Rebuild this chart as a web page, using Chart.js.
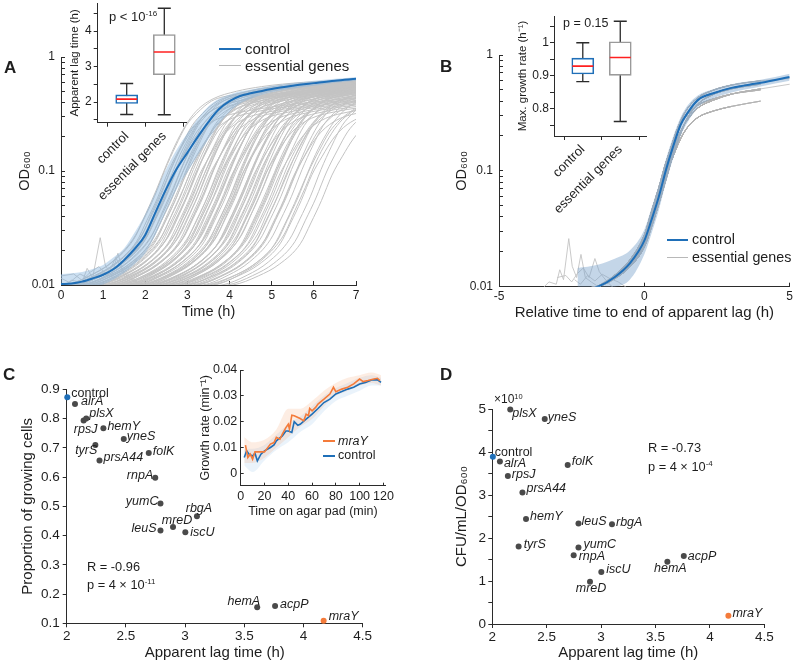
<!DOCTYPE html>
<html><head><meta charset="utf-8">
<script src="https://cdn.jsdelivr.net/npm/chart.js@4/dist/chart.umd.min.js"></script>
<style>
body{margin:0;width:800px;height:664px;background:#fff;position:relative;overflow:hidden;font-family:'Liberation Sans',Arial,Helvetica,sans-serif;color:#1e1e1e}
canvas{position:absolute;z-index:1}
.t{position:absolute;white-space:nowrap;transform:translateY(-50%);line-height:1;z-index:2}
.sup{font-size:0.62em;vertical-align:0.6em}
.lg{position:absolute;height:0;z-index:2}
</style></head><body>
<div class="t" style="left:4px;top:67px;font-weight:bold;font-size:17px">A</div>
<div class="t" style="left:440px;top:66px;font-weight:bold;font-size:17px">B</div>
<div class="t" style="left:3px;top:374px;font-weight:bold;font-size:17px">C</div>
<div class="t" style="left:440px;top:374px;font-weight:bold;font-size:17px">D</div>

<div class="lg" style="left:219px;top:47.5px;width:22px;border-top:2px solid #1f6fb8"></div>
<div class="t" style="left:245px;top:48px;font-size:15px">control</div>
<div class="lg" style="left:219px;top:64.5px;width:22px;border-top:1px solid #b8b8b8"></div>
<div class="t" style="left:245px;top:65px;font-size:15px">essential genes</div>

<div class="lg" style="left:667px;top:238.5px;width:21px;border-top:2px solid #1f6fb8"></div>
<div class="t" style="left:692px;top:239px;font-size:14.3px">control</div>
<div class="lg" style="left:667px;top:256.5px;width:21px;border-top:1px solid #b8b8b8"></div>
<div class="t" style="left:692px;top:257px;font-size:14.3px">essential genes</div>

<div class="lg" style="left:322.5px;top:440px;width:12.5px;border-top:2px solid #f47b3a"></div>
<div class="t" style="left:338px;top:441px;font-size:12.5px;font-style:italic">mraY</div>
<div class="lg" style="left:322.5px;top:454.5px;width:12.5px;border-top:2px solid #1f6fb8"></div>
<div class="t" style="left:338px;top:455px;font-size:12.5px">control</div>

<div class="t" style="left:109px;top:16px;font-size:13px">p &lt; 10<span class="sup">-16</span></div>
<div class="t" style="left:563px;top:23px;font-size:12.5px">p = 0.15</div>
<div class="t" style="left:87px;top:567px;font-size:12.8px">R = -0.96</div>
<div class="t" style="left:87px;top:585px;font-size:12.8px">p = 4 &#215; 10<span class="sup">-11</span></div>
<div class="t" style="left:648px;top:448px;font-size:12.8px">R = -0.73</div>
<div class="t" style="left:648px;top:467px;font-size:12.8px">p = 4 &#215; 10<span class="sup">-4</span></div>
<div class="t" style="left:494px;top:399px;font-size:12px">&#215;10<span class="sup">10</span></div>

<script>
// ---------------- DATA ----------------
// Panel A: control mean growth curve (h, OD600) and its band
const timeA    = [0,0.25,0.5,0.75,1,1.25,1.5,1.75,2,2.25,2.5,2.75,3,3.25,3.5,3.75,4,4.25,4.5,5,5.5,6,6.5,7];
const ctrlOD_A = [0.0102,0.0103,0.0107,0.0114,0.0123,0.0138,0.0166,0.0208,0.0275,0.044,0.07,0.105,0.145,0.2,0.27,0.35,0.41,0.455,0.48,0.525,0.56,0.59,0.62,0.643];
const ctrlHi_A = [0.0125,0.0127,0.013,0.0138,0.015,0.0175,0.021,0.029,0.042,0.066,0.105,0.155,0.215,0.29,0.37,0.43,0.47,0.5,0.52,0.56,0.59,0.62,0.645,0.665];
const ctrlLo_A = [0.0089,0.009,0.0092,0.0095,0.0101,0.0112,0.0128,0.0153,0.019,0.028,0.045,0.07,0.098,0.138,0.19,0.26,0.33,0.39,0.43,0.49,0.53,0.56,0.595,0.62];

// Essential-gene growth curve shapes vs time relative to end of lag (h)
const relT   = [-6,-2.2,-1.6,-1,-0.5,0,0.25,0.5,0.75,1,1.25,1.5,1.85,2.4,3,4,5.2];
const shape0 = [0.0096,0.0097,0.0100,0.0122,0.0159,0.025,0.038,0.060,0.103,0.165,0.25,0.32,0.41,0.47,0.52,0.575,0.65];
const shape1 = [0.0096,0.0097,0.0100,0.0121,0.0155,0.024,0.037,0.058,0.098,0.150,0.22,0.28,0.35,0.41,0.46,0.51,0.57];
const shape2 = [0.0096,0.0097,0.0100,0.0120,0.0152,0.023,0.035,0.055,0.092,0.135,0.19,0.24,0.29,0.33,0.36,0.40,0.44];
const shape3 = [0.0096,0.0097,0.0101,0.0125,0.0165,0.027,0.042,0.068,0.115,0.185,0.27,0.35,0.43,0.50,0.55,0.60,0.63];
const shape4 = [0.0096,0.0097,0.0100,0.0118,0.0148,0.022,0.033,0.052,0.085,0.14,0.21,0.29,0.38,0.46,0.51,0.56,0.61];
const shape5 = [0.0096,0.0097,0.0101,0.0127,0.017,0.028,0.045,0.072,0.12,0.18,0.25,0.31,0.37,0.42,0.46,0.5,0.54];
// apparent lag (h) of each essential-gene curve and its shape
const lagsA = [1.72,1.76,1.79,1.83,1.86,1.9,1.93,1.97,2.0,2.03,2.07,2.1,2.14,2.17,2.21,2.25,2.28,2.32,2.35,2.39,
  2.42,2.46,2.49,2.53,2.56,2.6,2.63,2.67,2.7,2.74,2.77,2.81,2.84,2.88,2.91,2.95,2.98,3.02,3.05,3.09,
  3.12,3.16,3.19,3.23,3.26,3.3,3.33,3.37,3.4,3.44,3.47,3.51,3.54,3.58,3.61,3.65,3.68,3.72,3.75,3.79,
  3.82,3.86,3.9,3.93,3.97,4.01,4.05,4.09,4.13,4.17,4.21,4.25,4.3,4.34,4.38,4.43,4.47,4.52,4.57,4.62,
  4.67,4.72,4.78,4.84,4.9,4.97,5.04,5.12,5.2,5.3,5.42,5.55,5.68];
const shapeA = [0,3,1,4,0,2,5,1,0,3, 4,0,1,5,2,0,3,1,4,0, 5,1,0,2,3,4,0,1,5,0, 2,3,1,0,4,5,0,2,1,3,
  0,4,1,5,0,2,3,0,1,4, 5,0,2,1,3,0,4,5,1,0, 2,3,0,4,1,5,0,2,1,3, 0,4,5,1,0,2,3,0,4,1, 5,0,2,1,3,0,4,1,2,5, 0,1,2];
// noisy early-phase curves (h, OD600) and their lags
const noisy1T = [0,0.25,0.5,0.62,0.75,0.93,1.05,1.2,1.35,1.5,1.7,2.0,2.3];
const noisy1OD = [0.0095,0.011,0.0105,0.014,0.0115,0.026,0.015,0.012,0.019,0.012,0.011,0.0098,0.009];
const noisy2T = [0,0.3,0.5,0.7,0.9,1.1,1.3,1.45,1.6,1.8,2.0];
const noisy2OD = [0.012,0.0125,0.011,0.013,0.0145,0.012,0.0175,0.0135,0.012,0.0105,0.0095];
const noisy3T = [0,0.2,0.45,0.7,0.95,1.2,1.5,1.8];
const noisy3OD = [0.0115,0.0105,0.0125,0.0112,0.0128,0.0118,0.0110,0.0098];
const noisyLags = [3.53,3.0,2.4];

// Panel B: control aligned curve and band
const relB  = [-2.3,-1.6,-1,-0.5,0,0.25,0.5,0.75,1,1.25,1.5,1.85,2.4,3,4,5];
const ctrlB = [0.0090,0.0100,0.0122,0.0159,0.025,0.038,0.060,0.103,0.165,0.25,0.32,0.41,0.47,0.52,0.575,0.645];
const hiB   = [0.0145,0.0155,0.0175,0.0205,0.031,0.048,0.076,0.128,0.2,0.29,0.37,0.45,0.51,0.56,0.61,0.69];
const loB   = [0.0095,0.0097,0.0100,0.0115,0.019,0.029,0.046,0.08,0.13,0.2,0.265,0.355,0.425,0.475,0.535,0.6];

// Insets A/B: box plot statistics
const boxCats = ['control','essential genes'];
const lagMin = [1.65,1.64], lagQ1 = [1.96,2.77], lagMed = [2.08,3.41], lagQ3 = [2.2,3.9], lagMax = [2.52,4.64];
const rateMin = [0.882,0.761], rateQ1 = [0.905,0.901], rateMed = [0.929,0.955], rateQ3 = [0.953,1.003], rateMax = [1.0,1.065];

// Panels C/D
const geneNames = ['control','alrA','rpsJ','plsX','hemY','yneS','tyrS','prsA44','folK','rnpA','yumC','rbgA','mreD','leuS','iscU','hemA','acpP','mraY'];
const lagTime   = [2.005,2.07,2.143,2.165,2.31,2.482,2.242,2.277,2.693,2.748,2.792,3.10,2.898,2.792,3.002,3.609,3.76,4.17];
const propGrowing = [0.873,0.85,0.793,0.80,0.767,0.73,0.71,0.657,0.682,0.598,0.51,0.466,0.429,0.417,0.411,0.155,0.159,0.109];
const cfuPerOD  = [3.89e10,3.78e10,3.44e10,4.99e10,2.44e10,4.77e10,1.80e10,3.06e10,3.70e10,1.60e10,1.78e10,2.32e10,0.98e10,2.34e10,1.21e10,1.45e10,1.58e10,0.19e10];

// Inset C: growth rate on agar pad (min, 1/min)
const tMraY = [4,6,8,10,12,15,20,25,28,30,33,35,38,40,41,43,45,50,53,55,57,58,60,63,65,70,75,78,80,85,90,95,100,103,107,112,115,117];
const gMraY = [0.0109,0.0061,0.0074,0.0054,0.0083,0.0083,0.0083,0.0113,0.0119,0.0139,0.0132,0.0152,0.0177,0.019,0.0171,0.0225,0.0223,0.0212,0.0203,0.0229,0.0223,0.0251,0.0242,0.0255,0.0268,0.0287,0.0307,0.0333,0.0316,0.0326,0.0333,0.0346,0.0365,0.0355,0.0359,0.0365,0.0368,0.0359];
const tCtrl = [3,5,7,10,12,14,17,20,25,28,30,35,38,40,43,45,48,50,55,60,65,70,75,80,85,90,95,100,105,110,115,118];
const gCtrl = [0.0061,0.0087,0.0074,0.0067,0.0078,0.0048,0.0074,0.0087,0.010,0.011,0.0126,0.0145,0.0164,0.0164,0.0158,0.020,0.0186,0.019,0.021,0.0229,0.0251,0.0274,0.0287,0.0307,0.0317,0.0326,0.0333,0.0346,0.0352,0.0361,0.0362,0.0352];
const tBand = [3,10,20,30,40,50,60,70,80,90,100,110,118];
const ctrlHiC = [0.0095,0.0095,0.011,0.015,0.019,0.022,0.026,0.030,0.033,0.035,0.037,0.038,0.037];
const ctrlLoC = [0.003,0.0005,0.005,0.009,0.012,0.016,0.019,0.024,0.028,0.030,0.032,0.034,0.034];
const mraHiC  = [0.014,0.012,0.013,0.017,0.025,0.025,0.028,0.032,0.035,0.037,0.038,0.039,0.038];
const mraLoC  = [0.004,0.004,0.006,0.010,0.014,0.018,0.021,0.026,0.030,0.032,0.034,0.035,0.034];

// tick values
const logTicks = [0.01,0.02,0.03,0.04,0.05,0.06,0.07,0.08,0.09,0.1,0.2,0.3,0.4,0.5,0.6,0.7,0.8,0.9,1];
const logLabels = [0.01,0.1,1];
const ticksA_x = [0,1,2,3,4,5,6,7];
const ticksB_x = [-5,0,5];
const ticksLag = [2,2.5,3,3.5,4,4.5];
const ticksProp = [0.1,0.2,0.3,0.4,0.5,0.6,0.7,0.8,0.9];
const ticksCfu = [0,0.5e10,1e10,1.5e10,2e10,2.5e10,3e10,3.5e10,4e10,4.5e10,5e10];
const labelsCfu = [0,1e10,2e10,3e10,4e10,5e10];
const ticksLagBox = [1.5,2,2.5,3,3.5,4,4.5], labelsLagBox = [2,3,4];
const ticksRateBox = [0.75,0.8,0.85,0.9,0.95,1,1.05], labelsRateBox = [0.8,0.9,1];
const ticksPadT = [0,20,40,60,80,100,120];
const ticksPadG = [0,0.01,0.02,0.03,0.04];

// ---------------- STYLE / HELPERS ----------------
const FONT = "'Liberation Sans', Arial, Helvetica, sans-serif";
const BLUE = '#1f6fb8', ORANGE = '#f47b3a', GREY = '#c3c3c3', AXIS = '#2b2b2b', TXT = '#1e1e1e';
Chart.defaults.font.family = FONT;

function mk(left, top, w, h) {
  const c = document.createElement('canvas');
  c.width = w; c.height = h;
  c.style.left = left + 'px'; c.style.top = top + 'px';
  c.style.width = w + 'px'; c.style.height = h + 'px';
  document.body.appendChild(c);
  return c;
}
function scale(o) {
  const labeled = o.labeled || o.ticks;
  const fmt = o.fmt || (v => String(v));
  return {
    type: o.type || 'linear', position: o.pos, min: o.min, max: o.max, offset: false,
    afterBuildTicks: s => { s.ticks = o.ticks.map(v => ({value: v})); },
    afterFit: s => { if (o.pos === 'left') s.width = o.size; else s.height = o.size; },
    grid: {display: true, drawOnChartArea: false, drawTicks: true, tickLength: o.tl, color: AXIS, lineWidth: 1},
    border: {display: true, color: AXIS, width: 1},
    ticks: {autoSkip: false, maxRotation: o.rot || 0, minRotation: o.rot || 0, padding: o.pad, color: TXT,
      font: {family: FONT, size: o.fs}, callback: v => labeled.includes(v) ? fmt(v) : ''},
    title: o.title ? {display: true, text: o.title, color: TXT, font: {family: FONT, size: o.tfs}, padding: o.tpad} : {display: false}
  };
}
function opts(pad, scales, plugins) {
  return {responsive: false, animation: false, devicePixelRatio: 1, events: [],
    layout: {padding: pad}, scales: scales,
    plugins: Object.assign({legend: {display: false}, tooltip: {enabled: false}}, plugins || {})};
}
const pts = (xs, ys) => xs.map((x, i) => ({x: x, y: ys[i]}));
const shapes = [shape0, shape1, shape2, shape3, shape4, shape5];

// ---------------- PANEL A ----------------
(function () {
  const ds = [];
  ds.push({data: pts(timeA, ctrlOD_A), borderColor: BLUE, borderWidth: 2, pointRadius: 0, cubicInterpolationMode: 'monotone', order: 0});
  ds.push({data: pts(timeA, ctrlHi_A), borderWidth: 0, pointRadius: 0, backgroundColor: 'rgba(130,178,222,0.42)', fill: '+1', cubicInterpolationMode: 'monotone', order: 1});
  ds.push({data: pts(timeA, ctrlLo_A), borderWidth: 0, pointRadius: 0, fill: false, cubicInterpolationMode: 'monotone', order: 1});
  lagsA.forEach((L, k) => {
    const sh = shapes[shapeA[k]];
    ds.push({data: relT.map((r, j) => ({x: r + L, y: sh[j]})), borderColor: GREY, borderWidth: 1, pointRadius: 0, cubicInterpolationMode: 'monotone', order: 2});
  });
  [[noisy1T, noisy1OD], [noisy2T, noisy2OD], [noisy3T, noisy3OD]].forEach(n => {
    ds.push({data: pts(n[0], n[1]), borderColor: GREY, borderWidth: 0.9, pointRadius: 0, order: 2});
  });
  new Chart(mk(0, 0, 400, 330), {type: 'line', data: {datasets: ds}, options: opts(
    {left: 0, top: 57, right: 44, bottom: 0}, {
      x: scale({pos: 'bottom', min: 0, max: 7, ticks: ticksA_x, size: 45, tl: -4, pad: 7, fs: 12, title: 'Time (h)', tfs: 14.5, tpad: {top: 0, bottom: 9.8}}),
      y: scale({type: 'logarithmic', pos: 'left', min: 0.01, max: 1, ticks: logTicks, labeled: logLabels, size: 61, tl: -4, pad: 10, fs: 12, title: 'OD₆₀₀', tfs: 14.5, tpad: {top: 16.3, bottom: 0}})
    })});
})();

// ---------------- PANEL B ----------------
(function () {
  const ds = [];
  ds.push({data: pts(relB, ctrlB), borderColor: BLUE, borderWidth: 2, pointRadius: 0, cubicInterpolationMode: 'monotone', order: 0});
  ds.push({data: pts(relB, hiB), borderWidth: 0, pointRadius: 0, backgroundColor: 'rgba(125,165,205,0.45)', fill: '+1', cubicInterpolationMode: 'monotone', order: 1});
  ds.push({data: pts(relB, loB), borderWidth: 0, pointRadius: 0, fill: false, cubicInterpolationMode: 'monotone', order: 1});
  lagsA.forEach((L, k) => {
    const sh = shapes[shapeA[k]];
    const d = [];
    relT.forEach((r, j) => { if (r >= -L && r + L <= 7) d.push({x: r, y: sh[j]}); });
    ds.push({data: d, borderColor: 'rgba(180,180,180,0.8)', borderWidth: 0.9, pointRadius: 0, cubicInterpolationMode: 'monotone', order: 2});
  });
  [[noisy1T, noisy1OD], [noisy2T, noisy2OD], [noisy3T, noisy3OD]].forEach((n, k) => {
    ds.push({data: n[0].map((t, i) => ({x: t - noisyLags[k], y: n[1][i]})), borderColor: GREY, borderWidth: 0.9, pointRadius: 0, order: 2});
  });
  new Chart(mk(400, 0, 400, 330), {type: 'line', data: {datasets: ds}, options: opts(
    {left: 0, top: 55, right: 7, bottom: 0}, {
      x: scale({pos: 'bottom', min: -5, max: 5, ticks: ticksB_x, size: 43.3, tl: -4, pad: 7, fs: 12, title: 'Relative time to end of apparent lag (h)', tfs: 15, tpad: {top: 0, bottom: 7.7}}),
      y: scale({type: 'logarithmic', pos: 'left', min: 0.01, max: 1, ticks: logTicks, labeled: logLabels, size: 99, tl: -4, pad: 10, fs: 12, title: 'OD₆₀₀', tfs: 14.5, tpad: {top: 53, bottom: 0}})
    })});
})();

// ---------------- BOX-PLOT INSETS ----------------
function boxChart(canvas, mn, q1, md, q3, mx, pad, xopt, yopt) {
  const ds = [
    {type: 'scatter', data: pts([1, 2], md), pointStyle: 'line', pointRadius: 10.5, pointBorderColor: '#ff2020', pointBorderWidth: 1.6},
    {type: 'bar', data: [{x: 1, y: [q1[0], q3[0]]}, {x: 2, y: [q1[1], q3[1]]}], backgroundColor: '#ffffff', borderColor: [BLUE, '#9a9a9a'], borderWidth: 1.6, borderSkipped: false, barThickness: 22},
    {type: 'scatter', data: pts([1, 1, 2, 2], [mn[0], mx[0], mn[1], mx[1]]), pointStyle: 'line', pointRadius: 6.5, pointBorderColor: '#2b2b2b', pointBorderWidth: 1.4},
    {type: 'line', data: pts([1, 1], [mn[0], mx[0]]), borderColor: '#2b2b2b', borderWidth: 1.3, pointRadius: 0},
    {type: 'line', data: pts([2, 2], [mn[1], mx[1]]), borderColor: '#2b2b2b', borderWidth: 1.3, pointRadius: 0}
  ];
  new Chart(canvas, {type: 'bar', data: {datasets: ds}, options: opts(pad, {x: scale(xopt), y: scale(yopt)})});
}
boxChart(mk(40, -10, 170, 215), lagMin, lagQ1, lagMed, lagQ3, lagMax,
  {left: 0, top: 13, right: 24, bottom: 0},
  {pos: 'bottom', min: 0.229, max: 2.577, ticks: [1, 2], fmt: v => boxCats[v - 1], size: 82.3, tl: 4, pad: 2, rot: 45, fs: 13},
  {pos: 'left', min: 1.417, max: 4.789, ticks: ticksLagBox, labeled: labelsLagBox, size: 57.7, tl: 4, pad: 2, fs: 12, title: 'Apparent lag time (h)', tfs: 11.5, tpad: {top: 28.1, bottom: 0}});
boxChart(mk(500, 0, 170, 220), rateMin, rateQ1, rateMed, rateQ3, rateMax,
  {left: 0, top: 16, right: 23.5, bottom: 0},
  {pos: 'bottom', min: 0.232, max: 2.70, ticks: [1, 2], fmt: v => boxCats[v - 1], size: 84, tl: 4, pad: 2, rot: 45, fs: 13},
  {pos: 'left', min: 0.717, max: 1.081, ticks: ticksRateBox, labeled: labelsRateBox, size: 54, tl: 4, pad: 1, fs: 12, title: 'Max. growth rate (h⁻¹)', tfs: 11.5, tpad: {top: 16.1, bottom: 0}});

// ---------------- PANELS C & D ----------------
const geneLabelPlugin = {
  id: 'geneLabels',
  afterDatasetsDraw(chart, args, o) {
    if (!o || !o.names) return;
    const ctx = chart.ctx, meta = chart.getDatasetMeta(0);
    ctx.save();
    ctx.fillStyle = TXT; ctx.textBaseline = 'middle';
    meta.data.forEach((el, i) => {
      const name = o.names[i];
      const p = o.place[name] || [4, -2, 'left'];
      ctx.font = (name === 'control' ? '' : 'italic ') + o.size + 'px ' + FONT;
      ctx.textAlign = p[2];
      ctx.fillText(name, el.x + p[0], el.y + p[1]);
    });
    ctx.restore();
  }
};
const colorFor = g => g === 'control' ? BLUE : (g === 'mraY' ? ORANGE : '#4a4a4a');
const placeC = {control: [4, -4, 'left'], alrA: [6, -2, 'left'], rpsJ: [2, 9, 'center'], plsX: [3, -5, 'left'], hemY: [4, -2, 'left'],
  yneS: [3, -3, 'left'], tyrS: [2, 6, 'right'], prsA44: [4, -3, 'left'], folK: [4, -2, 'left'], rnpA: [-2, -2, 'right'],
  yumC: [-2, -2, 'right'], rbgA: [2, -8, 'center'], mreD: [4, -7, 'center'], leuS: [-4, -2, 'right'], iscU: [5, 0, 'left'],
  hemA: [3, -6, 'right'], acpP: [5, -2, 'left'], mraY: [5, -4, 'left']};
const placeD = {control: [2, -4, 'left'], alrA: [4, 2, 'left'], rpsJ: [4, -2, 'left'], plsX: [2, 4, 'left'], hemY: [4, -3, 'left'],
  yneS: [3, -1, 'left'], tyrS: [5, -2, 'left'], prsA44: [4, -4, 'left'], folK: [4, -3, 'left'], rnpA: [5, 1, 'left'],
  yumC: [5, -3, 'left'], rbgA: [4, -2, 'left'], mreD: [1, 7, 'center'], leuS: [3, -2, 'left'], iscU: [5, -2, 'left'],
  hemA: [3, 7, 'center'], acpP: [4, 0, 'left'], mraY: [4, -2, 'left']};
function geneChart(canvas, yVals, place, pad, xopt, yopt) {
  new Chart(canvas, {type: 'scatter', data: {datasets: [{data: pts(lagTime, yVals), pointRadius: 3, pointBorderWidth: 0,
    pointBackgroundColor: geneNames.map(colorFor), clip: false}]},
    options: opts(pad, {x: scale(xopt), y: scale(yopt)}, {geneLabels: {names: geneNames, place: place, size: 12.5}}),
    plugins: [geneLabelPlugin]});
}
geneChart(mk(0, 330, 400, 334), propGrowing, placeC, {left: 0, top: 59.3, right: 37.3, bottom: 0},
  {pos: 'bottom', min: 2, max: 4.5, ticks: ticksLag, size: 40.7, tl: 4, pad: 1, fs: 13.5, title: 'Apparent lag time (h)', tfs: 15, tpad: {top: 0, bottom: 2}},
  {pos: 'left', min: 0.1, max: 0.9, ticks: ticksProp, size: 66.7, tl: 4, pad: 3, fs: 13.5, title: 'Proportion of growing cells', tfs: 15, tpad: {top: 19, bottom: 0}});
geneChart(mk(400, 330, 400, 334), cfuPerOD, placeD, {left: 0, top: 79, right: 35.7, bottom: 0},
  {pos: 'bottom', min: 2, max: 4.5, ticks: ticksLag, size: 40, tl: 4, pad: 1, fs: 13.5, title: 'Apparent lag time (h)', tfs: 15, tpad: {top: 0, bottom: 2}},
  {pos: 'left', min: 0, max: 5e10, ticks: ticksCfu, labeled: labelsCfu, fmt: v => String(v / 1e10), size: 92.3, tl: 4, pad: 2.3, fs: 13.5, title: 'CFU/mL/OD₆₀₀', tfs: 15, tpad: {top: 52.7, bottom: 0}});

// ---------------- INSET C ----------------
(function () {
  const ds = [
    {data: pts(tMraY, gMraY), borderColor: ORANGE, borderWidth: 1.6, pointRadius: 0},
    {data: pts(tCtrl, gCtrl), borderColor: BLUE, borderWidth: 1.6, pointRadius: 0},
    {data: pts(tBand, mraHiC), borderWidth: 0, pointRadius: 0, backgroundColor: 'rgba(244,140,80,0.16)', fill: '+1', cubicInterpolationMode: 'monotone'},
    {data: pts(tBand, mraLoC), borderWidth: 0, pointRadius: 0, fill: false, cubicInterpolationMode: 'monotone'},
    {data: pts(tBand, ctrlHiC), borderWidth: 0, pointRadius: 0, backgroundColor: 'rgba(90,160,225,0.13)', fill: '+1', cubicInterpolationMode: 'monotone'},
    {data: pts(tBand, ctrlLoC), borderWidth: 0, pointRadius: 0, fill: false, cubicInterpolationMode: 'monotone'}
  ];
  new Chart(mk(190, 355, 210, 170), {type: 'line', data: {datasets: ds}, options: opts(
    {left: 0, top: 15, right: 14, bottom: 0}, {
      x: scale({pos: 'bottom', min: 0, max: 121.4, ticks: ticksPadT, size: 39.3, tl: -3, pad: 6, fs: 12.5, title: 'Time on agar pad (min)', tfs: 12.5, tpad: {top: 0, bottom: 5.8}}),
      y: scale({pos: 'left', min: -0.0048, max: 0.04, ticks: ticksPadG, size: 50.7, tl: -3, pad: 6.4, fs: 12.5, title: 'Growth rate (min⁻¹)', tfs: 12.5, tpad: {top: 8.5, bottom: 0}})
    })});
})();
</script>
</body></html>
